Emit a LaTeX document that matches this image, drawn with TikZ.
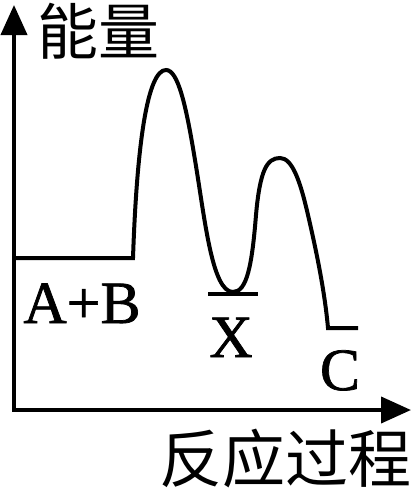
\documentclass[tikz,border=0pt]{standalone}
\usepackage{fontspec}
\setmainfont{Liberation Serif}
\newfontfamily\heavyserif[FakeBold=1.2]{Liberation Serif}
\newfontfamily\cjk{Noto Sans CJK SC}
\usetikzlibrary{arrows.meta}
\tikzset{
  axisline/.style={line width=4pt, -{Triangle[length=30pt,width=26pt]}},
  curveline/.style={line width=4pt, line join=miter},
  latin/.style={inner sep=0pt, anchor=base, font=\heavyserif\fontsize{60}{60}\selectfont},
  cjklabel/.style={inner sep=0pt, font=\cjk\fontsize{61}{61}\selectfont},
}
\begin{document}
\begin{tikzpicture}[x=1pt,y=-1pt]
\useasboundingbox (0,0) rectangle (418,490);
\coordinate (O) at (14,410);
\coordinate (Ytip) at (14,5);
\coordinate (Xtip) at (411,410);
\draw[axisline] (O) -- (Ytip);
\draw[axisline] ([xshift=-2pt]O) -- (Xtip);
\node[cjklabel] (E) at (98,31) {能量};
\node[cjklabel, font=\cjk\fontsize{63}{63}\selectfont] (P) at (285,459) {反应过程};
% energy curve
\coordinate (s) at (14,258);
\coordinate (a) at (133,258);
\coordinate (p1) at (166,70);
\coordinate (m1) at (195,160);
\coordinate (x) at (233,292);
\coordinate (m2) at (256,215);
\coordinate (p2) at (280,158);
\coordinate (m3) at (308,215);
\coordinate (c) at (328,328);
\coordinate (e) at (358,328);
\draw[curveline] (s) -- (a)
  .. controls (137,140) and (148,70) .. (p1)
  .. controls (178,70) and (186,105) .. (m1)
  .. controls (205,220) and (212,292) .. (x)
  .. controls (247,292) and (252,265) .. (m2)
  .. controls (260,170) and (267,158) .. (p2)
  .. controls (292,158) and (300,180) .. (m3)
  .. controls (318,258) and (325,295) .. (c)
  -- (e);
\coordinate (xl) at (208,294);
\coordinate (xr) at (258,294);
\draw[line width=4pt] (xl) -- (xr);
\node[latin] (AB) at (82,323) {A+B};
\node[latin] (X) at (231,357) {X};
\node[latin] (C) at (340,390) {C};
\end{tikzpicture}
\end{document}
